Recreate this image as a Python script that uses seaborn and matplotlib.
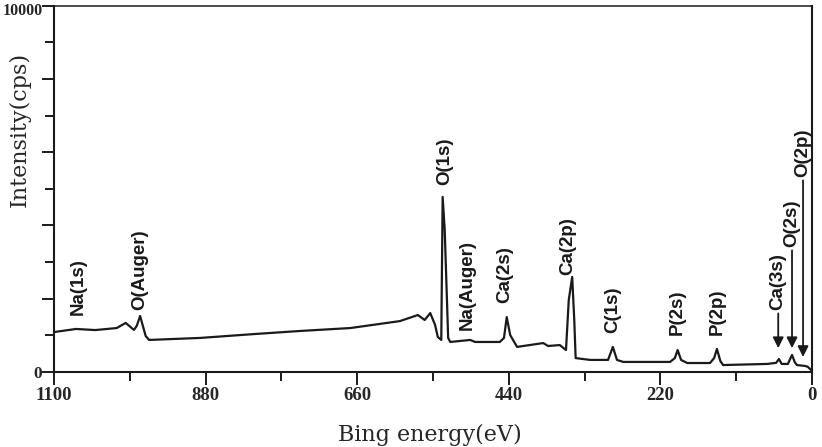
import numpy as np
import pandas as pd
import matplotlib
matplotlib.use("Agg")
import matplotlib.pyplot as plt
import seaborn as sns

# spectrum: binding energy (eV) vs intensity (cps)
energy = [1100, 1068, 1040, 1009, 996, 984, 980, 975, 971, 967, 962, 888, 810, 743, 670,
          598, 572, 562, 554, 547, 543, 538, 536, 533, 528, 525, 496, 489, 453, 447, 443,
          438, 428, 390, 383, 366, 357, 353, 348, 345, 343, 322, 296, 289, 283, 274, 206,
          199, 195, 190, 181, 148, 142, 138, 133, 129, 65, 52, 48, 44, 35, 29, 25, 22,
          10, 6, 1.4, 0]
intensity = [1090, 1175, 1145, 1200, 1340, 1150, 1255, 1530, 1255, 985, 875, 930, 1035, 1120, 1200,
             1390, 1555, 1420, 1610, 1285, 955, 875, 4780, 3880, 930, 820, 875, 820, 820, 930, 1500,
             1010, 685, 790, 710, 735, 600, 1965, 2595, 1420, 380, 330, 330, 685, 330, 275, 275,
             380, 600, 330, 245, 245, 380, 630, 300, 190, 220, 250, 355, 220, 220, 465, 270, 190,
             165, 140, 55, 25]

# peak labels: name, energy, label bottom (cps)
peak_names = ["Na(1s)", "O(Auger)", "O(1s)", "Na(Auger)", "Ca(2s)", "Ca(2p)", "C(1s)", "P(2s)", "P(2p)"]
peak_x = [1065, 975, 533, 501, 446, 354, 289, 196, 138]
peak_y = [1560, 1700, 5100, 1150, 1880, 2650, 1070, 1010, 1010]

# arrowed labels near 0 eV
arrow_names = ["Ca(3s)", "O(2s)", "O(2p)"]
arrow_x = [49, 29, 13]
arrow_text_y = [1690, 3410, 5320]
arrow_tip_y = [650, 650, 410]

df = pd.DataFrame({"energy": energy, "intensity": intensity})

sns.set_style("ticks")
plt.rcParams["font.family"] = ["Liberation Serif", "DejaVu Serif"]

fig = plt.figure(figsize=(8.22, 4.47), dpi=100)
ax = fig.add_axes([54 / 822, 1 - 372 / 447, 758 / 822, 366.3 / 447])

sns.lineplot(data=df, x="energy", y="intensity", ax=ax, color="#1a1a1a", linewidth=1.6,
             estimator=None, sort=False)

ax.set_xlim(1100, 0)
ax.set_ylim(0, 10000)

ax.set_xticks([1100, 880, 660, 440, 220, 0])
ax.set_xticks([990, 770, 550, 330, 110], minor=True)
ax.set_xticklabels(["1100", "880", "660", "440", "220", "0"], fontweight="bold", fontsize=13.5)
ax.set_yticks([0, 2000, 4000, 6000, 8000, 10000])
ax.set_yticks([1000, 3000, 5000, 7000, 9000], minor=True)
ax.set_yticklabels(["0", "", "", "", "", ""], fontweight="bold", fontsize=12.5)
# top label nudged so it stays inside the figure
ax.annotate("10000", xy=(0, 1), xycoords="axes fraction", xytext=(-8, -4),
            textcoords="offset points", ha="right", va="center",
            fontweight="bold", fontsize=11.5, annotation_clip=False)

ax.tick_params(which="major", direction="out", length=9.5, width=1.4, color="#1a1a1a", pad=1.5)
ax.tick_params(which="minor", direction="out", length=6.5, width=1.4, color="#1a1a1a")
ax.tick_params(axis="y", which="major", length=8.5, pad=0.5)

for s in ax.spines.values():
    s.set_visible(True)
    s.set_linewidth(1.5)
    s.set_color("#1a1a1a")
ax.spines["top"].set_linewidth(1.1)

ax.set_ylabel("Intensity(cps)", fontsize=16, family="DejaVu Serif")
ax.yaxis.set_label_coords(-0.031, 0.661)
ax.set_xlabel("Bing energy(eV)", fontsize=16, family="DejaVu Serif", va="baseline")
ax.xaxis.set_label_coords(0.496, -0.188)

lab_font = dict(fontsize=13.5, fontweight="bold", family="Liberation Sans", rotation=90,
                ha="center", va="bottom", color="#1a1a1a")
for name, x, y in zip(peak_names, peak_x, peak_y):
    ax.text(x, y, name, **lab_font)

for name, x, ty, tip in zip(arrow_names, arrow_x, arrow_text_y, arrow_tip_y):
    ax.annotate(name, xy=(x, tip), xytext=(x, ty), textcoords="data",
                arrowprops=dict(arrowstyle="-|>", color="#1a1a1a", lw=1.3,
                                mutation_scale=16, shrinkA=0, shrinkB=0),
                **lab_font)

fig.savefig("out.png", dpi=100)
